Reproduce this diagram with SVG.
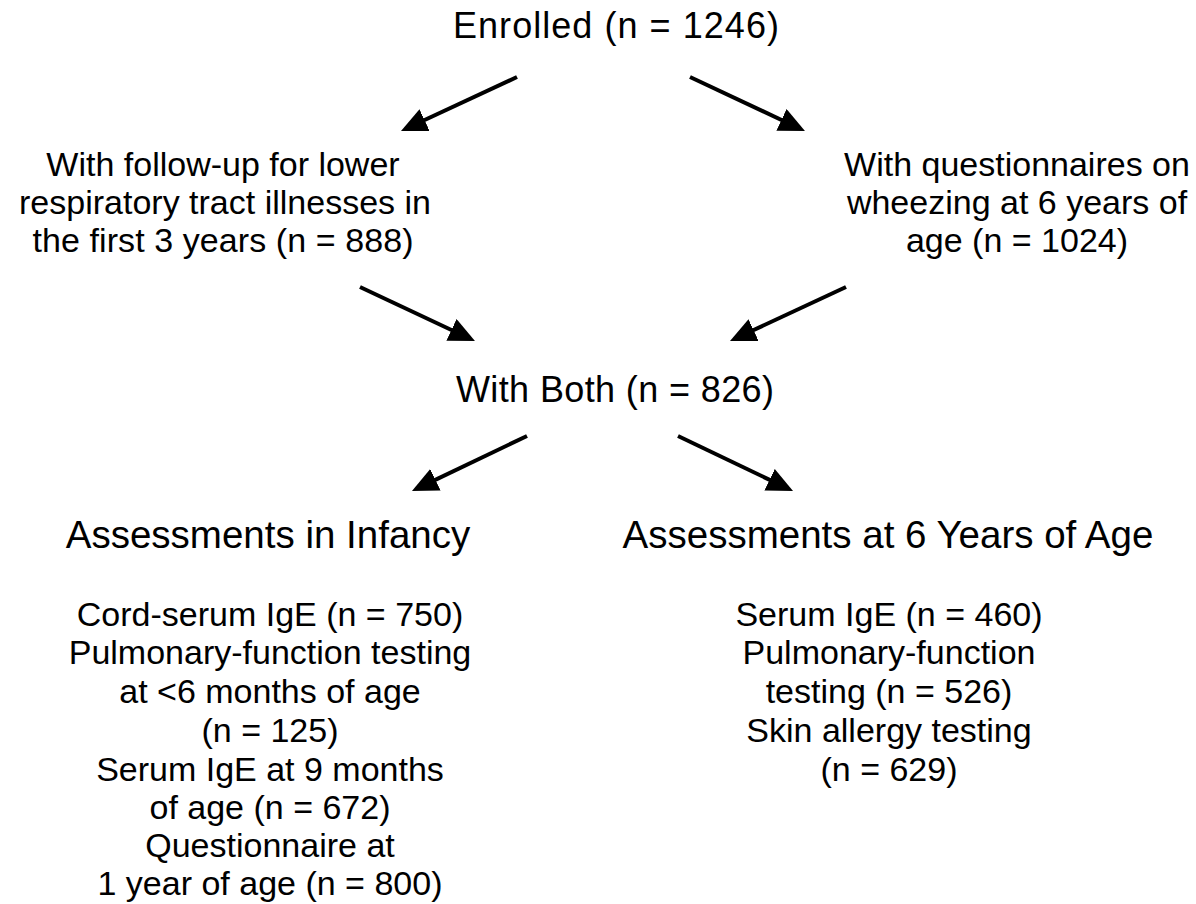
<svg xmlns="http://www.w3.org/2000/svg" width="1196" height="904" viewBox="0 0 1196 904">
  <style>
    text { font-family: "Liberation Sans", Arial, sans-serif; fill: #000; text-anchor: middle; }
    .t { font-size: 36px; }
    .b { font-size: 34px; }
    .h { font-size: 38.5px; }
    .arr { stroke: #000; stroke-width: 4; fill: none; marker-end: url(#ah); }
  </style>
  <defs>
    <marker id="ah" viewBox="0 0 26 24" refX="10" refY="12" markerWidth="26" markerHeight="24" markerUnits="userSpaceOnUse" orient="auto">
      <path d="M0,0 L26,12 L0,24 z" fill="#000"/>
    </marker>
  </defs>
  <rect width="1196" height="904" fill="#fff"/>

  <g id="enrolled">
    <text class="t" x="616" y="38" textLength="326" lengthAdjust="spacing">Enrolled (n = 1246)</text>
  </g>

  <g id="followup">
    <text class="b" x="223" y="176">With follow-up for lower</text>
    <text class="b" x="225" y="214">respiratory tract illnesses in</text>
    <text class="b" x="223" y="252" textLength="381" lengthAdjust="spacing">the first 3 years (n = 888)</text>
  </g>

  <g id="questionnaires">
    <text class="b" x="1017" y="176">With questionnaires on</text>
    <text class="b" x="1017" y="214">wheezing at 6 years of</text>
    <text class="b" x="1017" y="252">age (n = 1024)</text>
  </g>

  <g id="both">
    <text class="t" x="615" y="402" textLength="318" lengthAdjust="spacing">With Both (n = 826)</text>
  </g>

  <g id="infancy">
    <text class="h" x="268" y="548">Assessments in Infancy</text>
    <text class="b" x="270" y="626">Cord-serum IgE (n = 750)</text>
    <text class="b" x="270" y="664">Pulmonary-function testing</text>
    <text class="b" x="270" y="703">at &lt;6 months of age</text>
    <text class="b" x="270" y="742">(n = 125)</text>
    <text class="b" x="270" y="781">Serum IgE at 9 months</text>
    <text class="b" x="270" y="819">of age (n = 672)</text>
    <text class="b" x="270" y="857">Questionnaire at</text>
    <text class="b" x="270" y="895">1 year of age (n = 800)</text>
  </g>

  <g id="sixyears">
    <text class="h" x="888" y="548">Assessments at 6 Years of Age</text>
    <text class="b" x="889" y="626">Serum IgE (n = 460)</text>
    <text class="b" x="889" y="664">Pulmonary-function</text>
    <text class="b" x="889" y="703">testing (n = 526)</text>
    <text class="b" x="889" y="742">Skin allergy testing</text>
    <text class="b" x="889" y="781">(n = 629)</text>
  </g>

  <g id="connectors">
    <line class="arr" x1="517" y1="77" x2="415.5" y2="124.3"/>
    <line class="arr" x1="690" y1="77" x2="790.5" y2="124.2"/>
    <line class="arr" x1="360" y1="287" x2="460.5" y2="334.2"/>
    <line class="arr" x1="846" y1="287" x2="744.5" y2="334.3"/>
    <line class="arr" x1="527" y1="436" x2="426.4" y2="484.1"/>
    <line class="arr" x1="678" y1="436" x2="778.6" y2="484.1"/>
  </g>
</svg>
